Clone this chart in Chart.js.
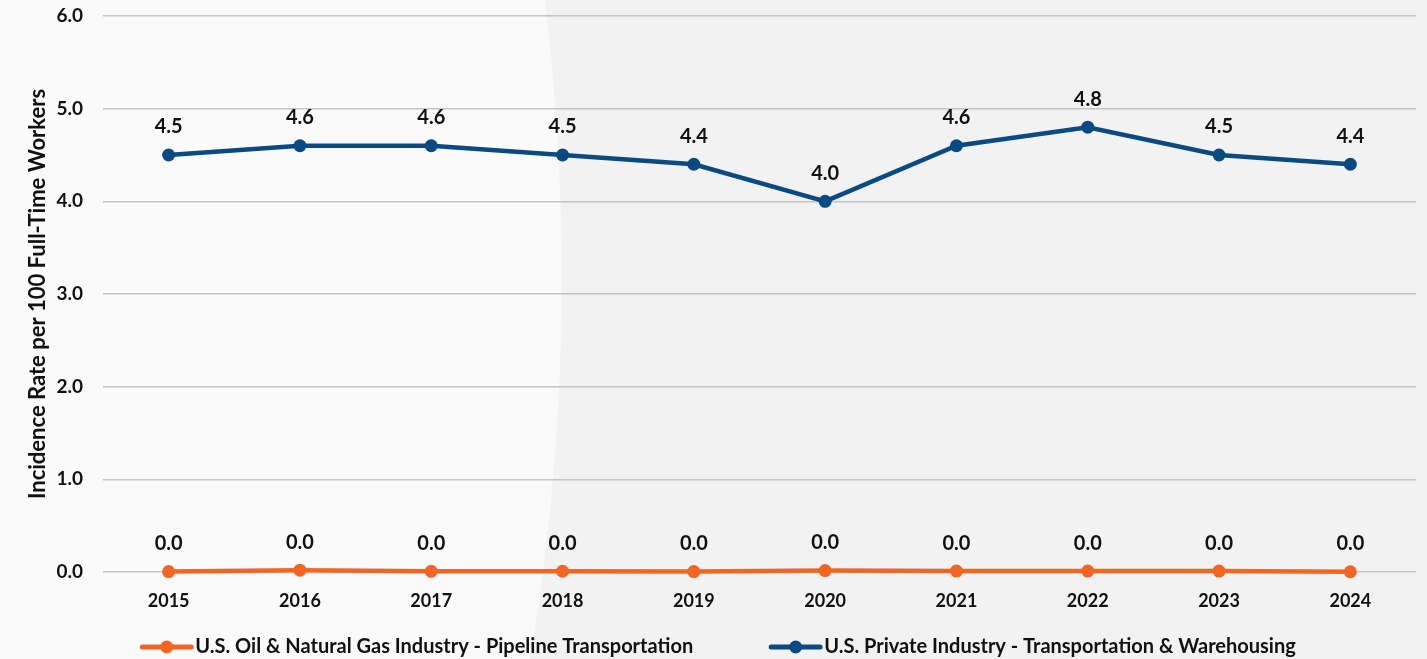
<!DOCTYPE html>
<html>
<head>
<meta charset="utf-8">
<script src="https://cdn.jsdelivr.net/npm/chart.js@4.4.1/dist/chart.umd.min.js"></script>
<style>
  html, body { margin: 0; padding: 0; width: 1427px; height: 659px; overflow: hidden; background: #f2f2f2; }
  #bg { position: absolute; left: 0; top: 0; }
  #wrap { position: absolute; left: 0; top: 0; width: 1427px; height: 659px; }
</style>
</head>
<body>
<svg id="bg" width="1427" height="659">
  <path d="M0,0 L545,0 Q585,330 530,659 L0,659 Z" fill="#fafafa"/>
</svg>
<div id="wrap"><canvas id="c" width="1427" height="659"></canvas></div>
<script>
const years = ['2015','2016','2017','2018','2019','2020','2021','2022','2023','2024'];
const pipelineRates = [0.005, 0.02, 0.007, 0.008, 0.005, 0.015, 0.01, 0.01, 0.01, 0.003];
const transportRates = [4.5, 4.6, 4.6, 4.5, 4.4, 4.0, 4.6, 4.8, 4.5, 4.4];
const seriesNames = ['U.S. Oil & Natural Gas Industry - Pipeline Transportation', 'U.S. Private Industry - Transportation & Warehousing'];
const yAxisTitle = 'Incidence Rate per 100 Full-Time Workers';
const yMin = 0, yMax = 6, yStep = 1;

const ORANGE = '#f26522';
const BLUE = '#0a4a82';
const FONT = 'Lato';

const valueLabels = {
  id: 'valueLabels',
  afterDatasetsDraw(chart) {
    const ctx = chart.ctx;
    ctx.save();
    ctx.font = 'bold 20px ' + FONT;
    ctx.fillStyle = '#111';
    ctx.textAlign = 'center';
    ctx.textBaseline = 'middle';
    chart.data.datasets.forEach((ds, i) => {
      const meta = chart.getDatasetMeta(i);
      meta.data.forEach((pt, j) => {
        ctx.fillText(Number(ds.data[j]).toFixed(1), pt.x, pt.y - 28);
      });
    });
    ctx.restore();
  }
};

const lineLegend = {
  id: 'lineLegend',
  afterDraw(chart) {
    const ctx = chart.ctx;
    ctx.save();
    ctx.font = 'bold 20px ' + FONT;
    ctx.textBaseline = 'middle';
    const markW = 53, gapText = 2, gapItem = 76;
    const ds = chart.data.datasets;
    let total = 0;
    ds.forEach((d, i) => { total += markW + gapText + ctx.measureText(d.label).width + (i < ds.length - 1 ? gapItem : 0); });
    let x = 718 - total / 2;
    const y = 647;
    ds.forEach((d) => {
      ctx.strokeStyle = d.borderColor;
      ctx.lineWidth = 5;
      ctx.lineCap = 'round';
      ctx.beginPath(); ctx.moveTo(x + 2, y); ctx.lineTo(x + markW - 2, y); ctx.stroke();
      ctx.fillStyle = d.borderColor;
      ctx.beginPath(); ctx.arc(x + markW / 2, y, 6.5, 0, Math.PI * 2); ctx.fill();
      ctx.fillStyle = '#111';
      ctx.textAlign = 'left';
      const tx = x + markW + gapText;
      ctx.fillText(d.label, tx, y);
      x = tx + ctx.measureText(d.label).width + gapItem;
    });
    ctx.restore();
  }
};

new Chart(document.getElementById('c'), {
  type: 'line',
  data: {
    labels: years,
    datasets: [
      { label: seriesNames[0], data: pipelineRates, borderColor: ORANGE, backgroundColor: ORANGE, clip: false,
        borderWidth: 4.5, pointRadius: 6.5, pointHoverRadius: 6.5, pointBackgroundColor: ORANGE, pointBorderWidth: 0, tension: 0 },
      { label: seriesNames[1], data: transportRates, borderColor: BLUE, backgroundColor: BLUE, clip: false,
        borderWidth: 4.5, pointRadius: 6.5, pointHoverRadius: 6.5, pointBackgroundColor: BLUE, pointBorderWidth: 0, tension: 0 }
    ]
  },
  options: {
    responsive: false,
    animation: false,
    layout: { padding: { top: 16, right: 11, bottom: 50, left: 0 } },
    plugins: { legend: { display: false }, tooltip: { enabled: false } },
    scales: {
      x: {
        offset: true,
        grid: { display: false, drawTicks: false },
        border: { display: false },
        ticks: { padding: 18, color: '#111', font: { family: FONT, size: 18, weight: 'bold' } },
        afterFit(s) { s.height = 37; }
      },
      y: {
        min: yMin, max: yMax,
        grid: { color: '#c4c4c4', lineWidth: 1.5, drawTicks: false },
        border: { display: false },
        ticks: { stepSize: yStep, padding: 20, color: '#111', font: { family: FONT, size: 19, weight: 'bold' },
                 callback: v => Number(v).toFixed(1) },
        title: { display: true, text: yAxisTitle, color: '#111', padding: { top: 25, bottom: 0 },
                 font: { family: FONT, size: 22, weight: 'bold' } },
        afterFit(s) { s.width = 103; s.paddingTop = 0; s.paddingBottom = 0; }
      }
    }
  },
  plugins: [valueLabels, lineLegend]
});
</script>
</body>
</html>
